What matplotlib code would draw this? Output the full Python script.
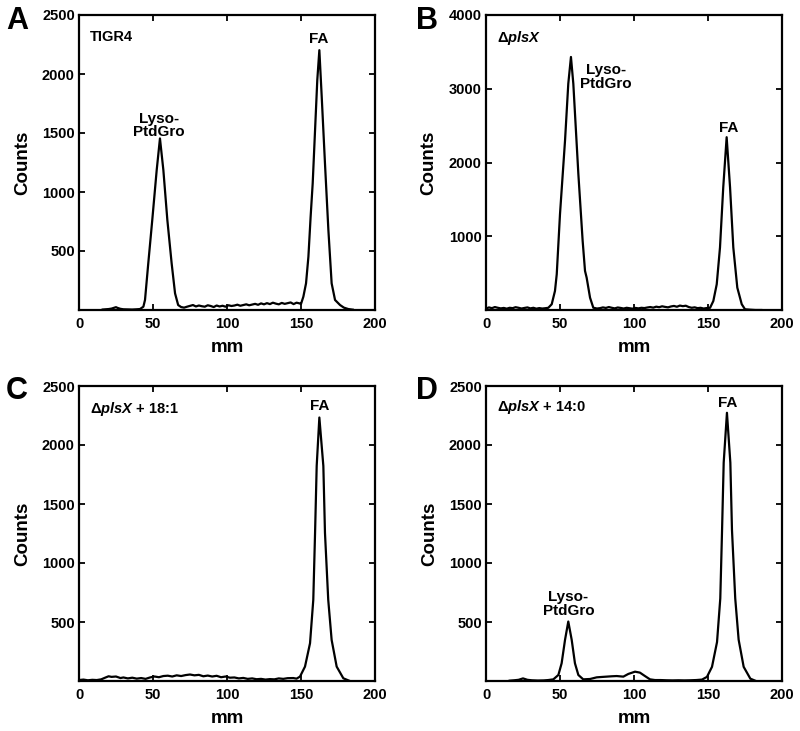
import matplotlib
matplotlib.use("Agg")
import matplotlib.pyplot as plt

plt.rcParams['font.family'] = ['Liberation Sans', 'DejaVu Sans']
plt.rcParams['font.weight'] = 'bold'
plt.rcParams['mathtext.fontset'] = 'custom'
plt.rcParams['mathtext.rm'] = 'Liberation Sans:bold'
plt.rcParams['mathtext.it'] = 'Liberation Sans:italic:bold'
plt.rcParams['mathtext.bf'] = 'Liberation Sans:bold'

# ---------------- data ----------------
A_mm = [16, 18, 20, 22, 24, 25, 26, 28, 30, 33, 36, 39, 41.2, 43.5, 44.6, 46.8, 49.5, 52.5, 54.7, 57,
        59.7, 62.6, 64.9, 67, 69, 71, 73, 75, 77, 79, 81, 83, 85, 87, 89, 91, 93, 95, 97, 99,
        101, 103, 105, 107, 109, 111, 113, 115, 117, 119, 121, 123, 125, 127, 129, 131, 133, 135, 137, 139,
        141, 143, 145, 147, 149, 150, 151.6, 153.4, 155, 156.5, 157.9, 159.5, 161, 162.4, 164, 166.2, 168.5, 170.7, 173, 176.4,
        179, 182, 185]
A_counts = [4, 6, 8, 12, 20, 24, 18, 10, 6, 5, 4, 6, 8, 28, 85, 395, 762, 1186, 1454, 1186,
            762, 395, 141, 42, 25, 20, 28, 35, 42, 30, 38, 32, 28, 40, 34, 25, 38, 30, 36, 28,
            40, 34, 38, 45, 36, 42, 48, 40, 46, 52, 44, 56, 48, 58, 50, 62, 54, 48, 60, 52,
            58, 64, 50, 62, 56, 51, 113, 226, 451, 790, 1073, 1525, 1948, 2202, 1807, 1242, 678, 226, 85, 42,
            20, 8, 3]

B_mm = [0, 2, 4, 6, 8, 10, 12, 14, 16, 18, 20, 22, 24, 26, 28, 30, 32, 34, 36, 38,
        40, 42.1, 44.4, 46.6, 47.8, 50, 53.4, 55.6, 57.4, 59, 62.4, 65.3, 66.9, 68, 70.3, 72.5, 75, 77, 79, 81,
        83, 85, 87, 89, 91, 93, 95, 97, 99, 101, 103, 105, 107, 109, 111, 113, 115, 117, 119, 121,
        123, 125, 127, 129, 131, 133, 135, 137, 139, 141, 143, 145, 147, 149, 151.4, 153.6, 155.9, 158.1, 160.3, 162.6,
        164.9, 167.1, 169.8, 172.8, 175, 178, 182, 186]
B_counts = [20, 35, 25, 40, 30, 22, 28, 18, 30, 25, 38, 30, 20, 28, 35, 22, 30, 18, 26, 20,
            24, 30, 78, 258, 485, 1301, 2298, 3069, 3431, 3069, 1845, 938, 530, 439, 167, 31, 20, 25, 35, 28,
            40, 30, 22, 34, 28, 20, 30, 24, 18, 28, 22, 30, 26, 34, 40, 32, 45, 38, 50, 42,
            36, 48, 55, 44, 60, 52, 58, 40, 30, 36, 25, 30, 20, 26, 30, 122, 349, 847, 1663, 2343,
            1663, 847, 303, 78, 10, 5, 0, 0]

C_mm = [0, 3, 6, 9, 12, 15, 18, 20, 22, 25, 28, 30, 33, 36, 39, 42, 45, 48, 51, 54,
        57, 60, 63, 66, 69, 72, 75, 78, 81, 84, 87, 90, 93, 96, 99, 102, 105, 108, 111, 114,
        117, 120, 123, 126, 129, 132, 135, 138, 141, 144.8, 147, 149.3, 152.7, 156.1, 158.3, 159.5, 160.6, 162.4, 165.1, 166.2,
        168.4, 170.7, 174.1, 178.6, 183]
C_counts = [8, 12, 6, 10, 8, 14, 30, 40, 35, 38, 25, 30, 22, 28, 20, 25, 18, 30, 38, 32,
            42, 45, 38, 48, 42, 50, 55, 48, 52, 40, 46, 38, 44, 32, 38, 28, 30, 22, 26, 18,
            22, 15, 18, 12, 16, 14, 22, 18, 24, 25, 20, 37, 122, 320, 688, 1255, 1822, 2233, 1822, 1255,
            688, 348, 122, 23, 0]

D_mm = [16, 19, 22, 24, 25, 26, 28, 31, 35, 39, 42, 45.5, 48.9, 51.1, 53.4, 55.6, 57.9, 60.1, 62.4, 65.7,
        70.3, 74.8, 78, 81.5, 85, 88.3, 92.8, 96.2, 100.7, 104, 107.4, 110.8, 114.2, 118, 122, 126, 130, 134, 138, 142,
        146, 149.3, 152.7, 156.1, 158.3, 159.5, 160.6, 162.8, 165.1, 166.2, 168.4, 170.7, 174.1, 178.6, 182]
D_counts = [3, 6, 10, 18, 22, 18, 10, 6, 4, 5, 8, 14, 51, 150, 349, 504, 349, 150, 51, 14,
            17, 31, 34, 37, 40, 42, 37, 60, 79, 71, 42, 14, 8, 8, 6, 5, 6, 5, 6, 8,
            12, 35, 120, 330, 700, 1280, 1850, 2273, 1850, 1280, 700, 350, 120, 20, 2]

x_ticks = [0, 50, 100, 150, 200]
y_ticks_std = [500, 1000, 1500, 2000, 2500]
y_ticks_B = [1000, 2000, 3000, 4000]

# ---------------- figure ----------------
fig = plt.figure(figsize=(8.0, 7.31), dpi=100)

W = 296 / 800
H = 295 / 731
pos = {
    'A': [79 / 800, 1 - 310 / 731, W, H],
    'B': [486 / 800, 1 - 310 / 731, W, H],
    'C': [79 / 800, 1 - 681 / 731, W, H],
    'D': [486 / 800, 1 - 681 / 731, W, H],
}

panels = [
    ('A', A_mm, A_counts, 2500, y_ticks_std, 'TIGR4', 2315,
     [('FA', 161.7, 2295), ('Lyso-\nPtdGro', 54.0, 1565)]),
    ('B', B_mm, B_counts, 4000, y_ticks_B, r'$\Delta\mathit{plsX}$', 3683,
     [('FA', 163.9, 2473), ('Lyso-\nPtdGro', 81.0, 3162)]),
    ('C', C_mm, C_counts, 2500, y_ticks_std, r'$\Delta\mathit{plsX}$ + 18:1', 2302,
     [('FA', 162.8, 2330)]),
    ('D', D_mm, D_counts, 2500, y_ticks_std, r'$\Delta\mathit{plsX}$ + 14:0', 2321,
     [('FA', 163.2, 2358), ('Lyso-\nPtdGro', 55.7, 652)]),
]

for letter, xs, ys, ymax, yt, corner, cy, notes in panels:
    ax = fig.add_axes(pos[letter])
    ax.plot(xs, ys, color='black', lw=1.6)
    ax.set_xlim(0, 200)
    ax.set_ylim(0, ymax)
    ax.set_xticks(x_ticks)
    ax.set_yticks(yt)
    ax.tick_params(direction='in', length=4, width=1.3, top=True, right=True,
                   labelsize=10.5, pad=3)
    ax.tick_params(axis='x', pad=5)
    for lab in ax.get_xticklabels() + ax.get_yticklabels():
        lab.set_fontweight('bold')
    for sp in ax.spines.values():
        sp.set_linewidth(1.6)
    ax.set_xlabel('mm', fontsize=13.5, fontweight='bold', labelpad=6)
    ax.set_ylabel('Counts', fontsize=13.5, fontweight='bold', labelpad=8)
    ax.text(7.3, cy, corner, fontsize=10.5, fontweight='bold', ha='left', va='center')
    for txt, tx, ty in notes:
        ax.text(tx, ty, txt, fontsize=11, fontweight='bold', ha='center', va='center',
                linespacing=0.95)
    fx = 6 / 800 if letter in ('A', 'C') else 416 / 800
    fy = 1 - (6 / 731) if letter in ('A', 'B') else 1 - (376 / 731)
    fig.text(fx, fy, letter, fontsize=22, fontweight='bold', ha='left', va='top')

fig.savefig('out.png', dpi=100)
